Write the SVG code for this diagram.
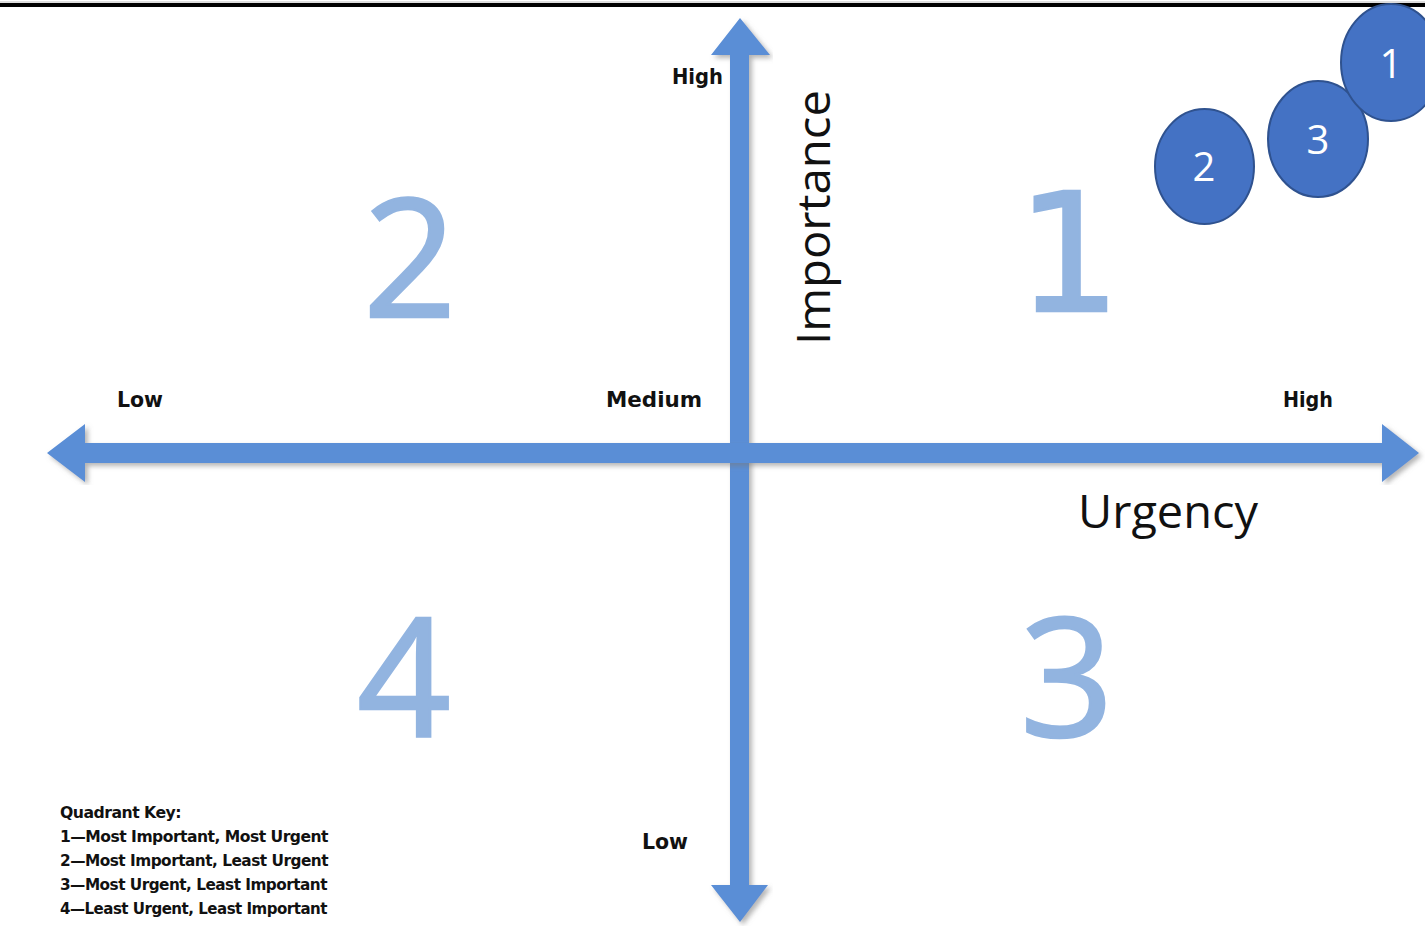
<svg xmlns="http://www.w3.org/2000/svg" width="1425" height="926" viewBox="0 0 1425 926">
<defs>
<filter id="sh" x="-5%" y="-5%" width="110%" height="110%">
<feDropShadow dx="3" dy="3" stdDeviation="2.5" flood-color="#777" flood-opacity="0.55"/>
</filter>
</defs>
<style>
.ax{fill:#5A8ED6;filter:url(#sh)}
.big{font-family:"Open Sans","Liberation Sans",sans-serif;font-size:164px;fill:#92B4E0;stroke:#92B4E0;stroke-width:2.5;text-anchor:middle}
.one{font-family:"DejaVu Sans","Liberation Sans",sans-serif}
.lbl{font-family:"DejaVu Sans","Liberation Sans",sans-serif;font-weight:bold;font-size:21px;fill:#111}
.title{font-family:"Open Sans","Liberation Sans",sans-serif;font-size:46px;fill:#111}
.key{font-family:"DejaVu Sans","Liberation Sans",sans-serif;font-weight:bold;font-size:15px;fill:#111;letter-spacing:-0.5px}
.circ{fill:#4472C4;stroke:#2F528F;stroke-width:2}
.ct{font-family:"Open Sans","Liberation Sans",sans-serif;font-size:40px;fill:#fff;text-anchor:middle}
</style>
<rect width="1425" height="926" fill="#fff"/>
<rect x="0" y="1.5" width="1425" height="1" fill="#bbb"/>
<rect x="0" y="3" width="1425" height="4" fill="#000"/>

<g id="connectors">
<polygon class="ax" points="740,18 770,55 749,55 749,885 768,885 740,922 711,885 730,885 730,55 711,55"/>
<polygon class="ax" points="47,453 85,424 85,443 1382,443 1382,424 1419,453 1382,482 1382,463 85,463 85,482"/>
</g>

<g id="quadrant-2"><text class="big" x="410" y="317">2</text></g>
<g id="quadrant-1"><text class="big one" x="1069" y="311" font-size="156">1</text></g>
<g id="quadrant-4"><text class="big" x="404" y="736">4</text></g>
<g id="quadrant-3"><text class="big" x="1067" y="736">3</text></g>

<g id="labels">
<text class="lbl" x="672" y="84" textLength="51" lengthAdjust="spacingAndGlyphs">High</text>
<text class="lbl" x="117" y="407" textLength="46" lengthAdjust="spacingAndGlyphs">Low</text>
<text class="lbl" x="606" y="407" textLength="96" lengthAdjust="spacingAndGlyphs">Medium</text>
<text class="lbl" x="1283" y="407" textLength="50" lengthAdjust="spacingAndGlyphs">High</text>
<text class="lbl" x="642" y="849" textLength="46" lengthAdjust="spacingAndGlyphs">Low</text>
<text class="title" transform="translate(830,345) rotate(-90)" textLength="255" lengthAdjust="spacingAndGlyphs">Importance</text>
<text class="title" x="1078" y="528" textLength="180" lengthAdjust="spacingAndGlyphs">Urgency</text>
</g>

<g id="key">
<text class="key" x="60" y="818" textLength="121" lengthAdjust="spacingAndGlyphs">Quadrant Key:</text>
<text class="key" x="60" y="842" textLength="268" lengthAdjust="spacingAndGlyphs">1—Most Important,  Most Urgent</text>
<text class="key" x="60" y="866" textLength="268" lengthAdjust="spacingAndGlyphs">2—Most Important,  Least Urgent</text>
<text class="key" x="60" y="890" textLength="267" lengthAdjust="spacingAndGlyphs">3—Most Urgent, Least Important</text>
<text class="key" x="60" y="914" textLength="267" lengthAdjust="spacingAndGlyphs">4—Least Urgent, Least Important</text>
</g>

<g id="circle-2"><ellipse class="circ" cx="1204.5" cy="166.5" rx="49.5" ry="57.5"/><text class="ct" x="1204" y="181">2</text></g>
<g id="circle-3"><ellipse class="circ" cx="1318" cy="139" rx="50" ry="58"/><text class="ct" x="1318" y="154">3</text></g>
<g id="circle-1"><ellipse class="circ" cx="1391" cy="62.5" rx="50" ry="58.5"/><text class="ct" x="1391" y="78">1</text></g>
</svg>
